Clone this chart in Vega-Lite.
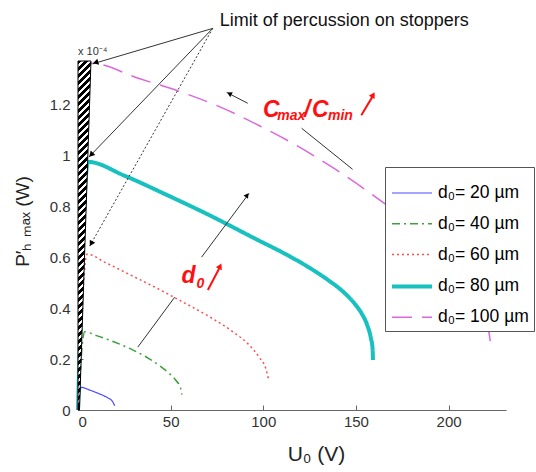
{
  "$schema": "https://vega.github.io/schema/vega-lite/v6.json",
  "width": 428,
  "height": 349,
  "autosize": {"type": "none"},
  "padding": {"left": 78, "top": 61, "right": 30, "bottom": 62},
  "background": "white",
  "config": {
    "view": {"stroke": null},
    "font": "Liberation Sans",
    "axis": {
      "grid": false,
      "labelFont": "Liberation Sans",
      "labelFontSize": 15,
      "labelColor": "#333",
      "domainColor": "#666",
      "tickColor": "#666",
      "tickSize": -5,
      "titleFont": "Liberation Sans",
      "titleFontWeight": "normal",
      "titleColor": "#222"
    },
    "legend": {
      "title": null,
      "titlePadding": 0,
      "symbolType": "stroke",
      "symbolSize": 1600,
      "labelFont": "Liberation Sans",
      "labelFontSize": 17.5,
      "labelColor": "#000",
      "labelOffset": 4,
      "padding": 5,
      "rowPadding": 0.8,
      "strokeColor": "#555",
      "fillColor": "white"
    }
  },
  "datasets": {
    "curves": [
      {"U": 0, "P": 0, "d": "d₀= 20 µm"},
      {"U": 1.8, "P": 0.089, "d": "d₀= 20 µm"},
      {"U": 6, "P": 0.079, "d": "d₀= 20 µm"},
      {"U": 10, "P": 0.068, "d": "d₀= 20 µm"},
      {"U": 13, "P": 0.059, "d": "d₀= 20 µm"},
      {"U": 16, "P": 0.048, "d": "d₀= 20 µm"},
      {"U": 18.5, "P": 0.035, "d": "d₀= 20 µm"},
      {"U": 19.8, "P": 0.017, "d": "d₀= 20 µm"},
      {"U": 0, "P": 0, "d": "d₀= 40 µm"},
      {"U": 3.6, "P": 0.307, "d": "d₀= 40 µm"},
      {"U": 10, "P": 0.292, "d": "d₀= 40 µm"},
      {"U": 20, "P": 0.266, "d": "d₀= 40 µm"},
      {"U": 30, "P": 0.234, "d": "d₀= 40 µm"},
      {"U": 38, "P": 0.203, "d": "d₀= 40 µm"},
      {"U": 44, "P": 0.174, "d": "d₀= 40 µm"},
      {"U": 49, "P": 0.145, "d": "d₀= 40 µm"},
      {"U": 53, "P": 0.115, "d": "d₀= 40 µm"},
      {"U": 55.3, "P": 0.088, "d": "d₀= 40 µm"},
      {"U": 56.1, "P": 0.06, "d": "d₀= 40 µm"},
      {"U": 0, "P": 0, "d": "d₀= 60 µm"},
      {"U": 4.9, "P": 0.612, "d": "d₀= 60 µm"},
      {"U": 15, "P": 0.578, "d": "d₀= 60 µm"},
      {"U": 30, "P": 0.524, "d": "d₀= 60 µm"},
      {"U": 45, "P": 0.469, "d": "d₀= 60 µm"},
      {"U": 55, "P": 0.43, "d": "d₀= 60 µm"},
      {"U": 70, "P": 0.37, "d": "d₀= 60 µm"},
      {"U": 84, "P": 0.305, "d": "d₀= 60 µm"},
      {"U": 92, "P": 0.258, "d": "d₀= 60 µm"},
      {"U": 98, "P": 0.205, "d": "d₀= 60 µm"},
      {"U": 101.5, "P": 0.16, "d": "d₀= 60 µm"},
      {"U": 103, "P": 0.115, "d": "d₀= 60 µm"},
      {"U": 0, "P": 0, "d": "d₀= 80 µm"},
      {"U": 5.4, "P": 0.974, "d": "d₀= 80 µm"},
      {"U": 25, "P": 0.92, "d": "d₀= 80 µm"},
      {"U": 47.7, "P": 0.845, "d": "d₀= 80 µm"},
      {"U": 70, "P": 0.768, "d": "d₀= 80 µm"},
      {"U": 96.3, "P": 0.67, "d": "d₀= 80 µm"},
      {"U": 112, "P": 0.612, "d": "d₀= 80 µm"},
      {"U": 125, "P": 0.558, "d": "d₀= 80 µm"},
      {"U": 135, "P": 0.51, "d": "d₀= 80 µm"},
      {"U": 143, "P": 0.465, "d": "d₀= 80 µm"},
      {"U": 149, "P": 0.42, "d": "d₀= 80 µm"},
      {"U": 153, "P": 0.38, "d": "d₀= 80 µm"},
      {"U": 156, "P": 0.335, "d": "d₀= 80 µm"},
      {"U": 158, "P": 0.285, "d": "d₀= 80 µm"},
      {"U": 159, "P": 0.24, "d": "d₀= 80 µm"},
      {"U": 159.2, "P": 0.196, "d": "d₀= 80 µm"},
      {"U": 0, "P": 0, "d": "d₀= 100 µm"},
      {"U": 6.9, "P": 1.361, "d": "d₀= 100 µm"},
      {"U": 33.4, "P": 1.3, "d": "d₀= 100 µm"},
      {"U": 55, "P": 1.25, "d": "d₀= 100 µm"},
      {"U": 76.6, "P": 1.19, "d": "d₀= 100 µm"},
      {"U": 98.2, "P": 1.115, "d": "d₀= 100 µm"},
      {"U": 120, "P": 1.03, "d": "d₀= 100 µm"},
      {"U": 137.8, "P": 0.95, "d": "d₀= 100 µm"},
      {"U": 162.9, "P": 0.824, "d": "d₀= 100 µm"},
      {"U": 185, "P": 0.7, "d": "d₀= 100 µm"},
      {"U": 200, "P": 0.6, "d": "d₀= 100 µm"},
      {"U": 210, "P": 0.51, "d": "d₀= 100 µm"},
      {"U": 217, "P": 0.42, "d": "d₀= 100 µm"},
      {"U": 221, "P": 0.34, "d": "d₀= 100 µm"},
      {"U": 222.5, "P": 0.27, "d": "d₀= 100 µm"}
    ],
    "hatch": [
      {"P": 0, "U": 0.8},
      {"P": 1.37, "U": 7.0}
    ]
  },
  "layer": [
    {
      "data": {"name": "curves"},
      "mark": {"type": "line", "interpolate": "monotone"},
      "encoding": {
        "x": {
          "field": "U", "type": "quantitative",
          "scale": {"domain": [0, 231], "nice": false, "zero": false},
          "axis": {"values": [0, 50, 100, 150, 200], "format": "d", "labelPadding": 9, "title": "U₀ (V)", "titleFontSize": 21, "titleX": 238, "titleY": 50, "titleBaseline": "alphabetic", "titleAnchor": null}
        },
        "y": {
          "field": "P", "type": "quantitative",
          "scale": {"domain": [0, 1.37], "nice": false},
          "axis": {"values": [0, 0.2, 0.4, 0.6, 0.8, 1, 1.2], "format": "~g", "labelPadding": 13, "title": "P′ₕ ₘₐₓ (W)", "titleFontSize": 19, "titleX": -56, "titleY": 160, "titleAngle": -90, "titleBaseline": "middle", "titleAlign": "center", "titleAnchor": null}
        },
        "color": {
          "field": "d", "type": "nominal",
          "scale": {"type": "ordinal", "domain": ["d₀= 20 µm", "d₀= 40 µm", "d₀= 60 µm", "d₀= 80 µm", "d₀= 100 µm"], "range": ["#4b4bff", "#3f9f3f", "#ff4d4d", "#18c0c0", "#dd66dd"]},
          "legend": {"orient": "none", "legendX": 307, "legendY": 106}
        },
        "strokeDash": {
          "field": "d", "type": "nominal",
          "scale": {"type": "ordinal", "domain": ["d₀= 20 µm", "d₀= 40 µm", "d₀= 60 µm", "d₀= 80 µm", "d₀= 100 µm"], "range": [[1, 0], [8, 4, 2, 4], [2, 3], [1, 0], [20, 10]]},
          "legend": {"orient": "none", "legendX": 307, "legendY": 106}
        },
        "strokeWidth": {
          "field": "d", "type": "nominal",
          "scale": {"type": "ordinal", "domain": ["d₀= 20 µm", "d₀= 40 µm", "d₀= 60 µm", "d₀= 80 µm", "d₀= 100 µm"], "range": [1.2, 1.5, 1.5, 4, 1.5]},
          "legend": {"orient": "none", "legendX": 307, "legendY": 106}
        }
      }
    },
    {
      "data": {"name": "hatch"},
      "mark": {
        "type": "area", "orient": "horizontal", "stroke": "#000", "strokeWidth": 1,
        "fill": {
          "gradient": "linear", "x1": 0, "y1": 0, "x2": 0.0372, "y2": 1,
          "stops": [
            {"offset": 0, "color": "#000"}, {"offset": 0.011, "color": "#000"}, {"offset": 0.011, "color": "#fff"}, {"offset": 0.02, "color": "#fff"},
            {"offset": 0.02, "color": "#000"}, {"offset": 0.031, "color": "#000"}, {"offset": 0.031, "color": "#fff"}, {"offset": 0.04, "color": "#fff"},
            {"offset": 0.04, "color": "#000"}, {"offset": 0.051, "color": "#000"}, {"offset": 0.051, "color": "#fff"}, {"offset": 0.06, "color": "#fff"},
            {"offset": 0.06, "color": "#000"}, {"offset": 0.071, "color": "#000"}, {"offset": 0.071, "color": "#fff"}, {"offset": 0.08, "color": "#fff"},
            {"offset": 0.08, "color": "#000"}, {"offset": 0.091, "color": "#000"}, {"offset": 0.091, "color": "#fff"}, {"offset": 0.1, "color": "#fff"},
            {"offset": 0.1, "color": "#000"}, {"offset": 0.111, "color": "#000"}, {"offset": 0.111, "color": "#fff"}, {"offset": 0.12, "color": "#fff"},
            {"offset": 0.12, "color": "#000"}, {"offset": 0.131, "color": "#000"}, {"offset": 0.131, "color": "#fff"}, {"offset": 0.14, "color": "#fff"},
            {"offset": 0.14, "color": "#000"}, {"offset": 0.151, "color": "#000"}, {"offset": 0.151, "color": "#fff"}, {"offset": 0.16, "color": "#fff"},
            {"offset": 0.16, "color": "#000"}, {"offset": 0.171, "color": "#000"}, {"offset": 0.171, "color": "#fff"}, {"offset": 0.18, "color": "#fff"},
            {"offset": 0.18, "color": "#000"}, {"offset": 0.191, "color": "#000"}, {"offset": 0.191, "color": "#fff"}, {"offset": 0.2, "color": "#fff"},
            {"offset": 0.2, "color": "#000"}, {"offset": 0.211, "color": "#000"}, {"offset": 0.211, "color": "#fff"}, {"offset": 0.22, "color": "#fff"},
            {"offset": 0.22, "color": "#000"}, {"offset": 0.231, "color": "#000"}, {"offset": 0.231, "color": "#fff"}, {"offset": 0.24, "color": "#fff"},
            {"offset": 0.24, "color": "#000"}, {"offset": 0.251, "color": "#000"}, {"offset": 0.251, "color": "#fff"}, {"offset": 0.26, "color": "#fff"},
            {"offset": 0.26, "color": "#000"}, {"offset": 0.271, "color": "#000"}, {"offset": 0.271, "color": "#fff"}, {"offset": 0.28, "color": "#fff"},
            {"offset": 0.28, "color": "#000"}, {"offset": 0.291, "color": "#000"}, {"offset": 0.291, "color": "#fff"}, {"offset": 0.3, "color": "#fff"},
            {"offset": 0.3, "color": "#000"}, {"offset": 0.311, "color": "#000"}, {"offset": 0.311, "color": "#fff"}, {"offset": 0.32, "color": "#fff"},
            {"offset": 0.32, "color": "#000"}, {"offset": 0.331, "color": "#000"}, {"offset": 0.331, "color": "#fff"}, {"offset": 0.34, "color": "#fff"},
            {"offset": 0.34, "color": "#000"}, {"offset": 0.351, "color": "#000"}, {"offset": 0.351, "color": "#fff"}, {"offset": 0.36, "color": "#fff"},
            {"offset": 0.36, "color": "#000"}, {"offset": 0.371, "color": "#000"}, {"offset": 0.371, "color": "#fff"}, {"offset": 0.38, "color": "#fff"},
            {"offset": 0.38, "color": "#000"}, {"offset": 0.391, "color": "#000"}, {"offset": 0.391, "color": "#fff"}, {"offset": 0.4, "color": "#fff"},
            {"offset": 0.4, "color": "#000"}, {"offset": 0.411, "color": "#000"}, {"offset": 0.411, "color": "#fff"}, {"offset": 0.42, "color": "#fff"},
            {"offset": 0.42, "color": "#000"}, {"offset": 0.431, "color": "#000"}, {"offset": 0.431, "color": "#fff"}, {"offset": 0.44, "color": "#fff"},
            {"offset": 0.44, "color": "#000"}, {"offset": 0.451, "color": "#000"}, {"offset": 0.451, "color": "#fff"}, {"offset": 0.46, "color": "#fff"},
            {"offset": 0.46, "color": "#000"}, {"offset": 0.471, "color": "#000"}, {"offset": 0.471, "color": "#fff"}, {"offset": 0.48, "color": "#fff"},
            {"offset": 0.48, "color": "#000"}, {"offset": 0.491, "color": "#000"}, {"offset": 0.491, "color": "#fff"}, {"offset": 0.5, "color": "#fff"},
            {"offset": 0.5, "color": "#000"}, {"offset": 0.511, "color": "#000"}, {"offset": 0.511, "color": "#fff"}, {"offset": 0.52, "color": "#fff"},
            {"offset": 0.52, "color": "#000"}, {"offset": 0.531, "color": "#000"}, {"offset": 0.531, "color": "#fff"}, {"offset": 0.54, "color": "#fff"},
            {"offset": 0.54, "color": "#000"}, {"offset": 0.551, "color": "#000"}, {"offset": 0.551, "color": "#fff"}, {"offset": 0.56, "color": "#fff"},
            {"offset": 0.56, "color": "#000"}, {"offset": 0.571, "color": "#000"}, {"offset": 0.571, "color": "#fff"}, {"offset": 0.58, "color": "#fff"},
            {"offset": 0.58, "color": "#000"}, {"offset": 0.591, "color": "#000"}, {"offset": 0.591, "color": "#fff"}, {"offset": 0.6, "color": "#fff"},
            {"offset": 0.6, "color": "#000"}, {"offset": 0.611, "color": "#000"}, {"offset": 0.611, "color": "#fff"}, {"offset": 0.62, "color": "#fff"},
            {"offset": 0.62, "color": "#000"}, {"offset": 0.631, "color": "#000"}, {"offset": 0.631, "color": "#fff"}, {"offset": 0.64, "color": "#fff"},
            {"offset": 0.64, "color": "#000"}, {"offset": 0.651, "color": "#000"}, {"offset": 0.651, "color": "#fff"}, {"offset": 0.66, "color": "#fff"},
            {"offset": 0.66, "color": "#000"}, {"offset": 0.671, "color": "#000"}, {"offset": 0.671, "color": "#fff"}, {"offset": 0.68, "color": "#fff"},
            {"offset": 0.68, "color": "#000"}, {"offset": 0.691, "color": "#000"}, {"offset": 0.691, "color": "#fff"}, {"offset": 0.7, "color": "#fff"},
            {"offset": 0.7, "color": "#000"}, {"offset": 0.711, "color": "#000"}, {"offset": 0.711, "color": "#fff"}, {"offset": 0.72, "color": "#fff"},
            {"offset": 0.72, "color": "#000"}, {"offset": 0.731, "color": "#000"}, {"offset": 0.731, "color": "#fff"}, {"offset": 0.74, "color": "#fff"},
            {"offset": 0.74, "color": "#000"}, {"offset": 0.751, "color": "#000"}, {"offset": 0.751, "color": "#fff"}, {"offset": 0.76, "color": "#fff"},
            {"offset": 0.76, "color": "#000"}, {"offset": 0.771, "color": "#000"}, {"offset": 0.771, "color": "#fff"}, {"offset": 0.78, "color": "#fff"},
            {"offset": 0.78, "color": "#000"}, {"offset": 0.791, "color": "#000"}, {"offset": 0.791, "color": "#fff"}, {"offset": 0.8, "color": "#fff"},
            {"offset": 0.8, "color": "#000"}, {"offset": 0.811, "color": "#000"}, {"offset": 0.811, "color": "#fff"}, {"offset": 0.82, "color": "#fff"},
            {"offset": 0.82, "color": "#000"}, {"offset": 0.831, "color": "#000"}, {"offset": 0.831, "color": "#fff"}, {"offset": 0.84, "color": "#fff"},
            {"offset": 0.84, "color": "#000"}, {"offset": 0.851, "color": "#000"}, {"offset": 0.851, "color": "#fff"}, {"offset": 0.86, "color": "#fff"},
            {"offset": 0.86, "color": "#000"}, {"offset": 0.871, "color": "#000"}, {"offset": 0.871, "color": "#fff"}, {"offset": 0.88, "color": "#fff"},
            {"offset": 0.88, "color": "#000"}, {"offset": 0.891, "color": "#000"}, {"offset": 0.891, "color": "#fff"}, {"offset": 0.9, "color": "#fff"},
            {"offset": 0.9, "color": "#000"}, {"offset": 0.911, "color": "#000"}, {"offset": 0.911, "color": "#fff"}, {"offset": 0.92, "color": "#fff"},
            {"offset": 0.92, "color": "#000"}, {"offset": 0.931, "color": "#000"}, {"offset": 0.931, "color": "#fff"}, {"offset": 0.94, "color": "#fff"},
            {"offset": 0.94, "color": "#000"}, {"offset": 0.951, "color": "#000"}, {"offset": 0.951, "color": "#fff"}, {"offset": 0.96, "color": "#fff"},
            {"offset": 0.96, "color": "#000"}, {"offset": 0.971, "color": "#000"}, {"offset": 0.971, "color": "#fff"}, {"offset": 0.98, "color": "#fff"},
            {"offset": 0.98, "color": "#000"}, {"offset": 1, "color": "#000"}
          ]
        }
      },
      "encoding": {
        "y": {"field": "P", "type": "quantitative"},
        "x": {"field": "U", "type": "quantitative"},
        "x2": {"datum": 0}
      }
    },
    {
      "data": {"values": [{}]},
      "mark": {"type": "rule", "color": "#333", "strokeWidth": 1},
      "encoding": {"x": {"datum": 72.7, "type": "quantitative"}, "y": {"datum": 1.498, "type": "quantitative"}, "x2": {"datum": 8.0}, "y2": {"datum": 1.359}}
    },
    {
      "data": {"values": [{}]},
      "mark": {"type": "rule", "color": "#333", "strokeWidth": 1},
      "encoding": {"x": {"datum": 72.7, "type": "quantitative"}, "y": {"datum": 1.498, "type": "quantitative"}, "x2": {"datum": 5.9}, "y2": {"datum": 0.993}}
    },
    {
      "data": {"values": [{}]},
      "mark": {"type": "rule", "color": "#333", "strokeWidth": 1, "strokeDash": [2, 2]},
      "encoding": {"x": {"datum": 72.7, "type": "quantitative"}, "y": {"datum": 1.498, "type": "quantitative"}, "x2": {"datum": 6.3}, "y2": {"datum": 0.643}}
    },
    {
      "data": {"values": [{}]},
      "mark": {"type": "rule", "color": "#333", "strokeWidth": 1},
      "encoding": {"x": {"datum": 148.2, "type": "quantitative"}, "y": {"datum": 0.945, "type": "quantitative"}, "x2": {"datum": 120.7}, "y2": {"datum": 1.106}}
    },
    {
      "data": {"values": [{}]},
      "mark": {"type": "rule", "color": "#333", "strokeWidth": 1},
      "encoding": {"x": {"datum": 91.6, "type": "quantitative"}, "y": {"datum": 1.204, "type": "quantitative"}, "x2": {"datum": 80.2}, "y2": {"datum": 1.247}}
    },
    {
      "data": {"values": [{}]},
      "mark": {"type": "rule", "color": "#333", "strokeWidth": 1},
      "encoding": {"x": {"datum": 32.3, "type": "quantitative"}, "y": {"datum": 0.247, "type": "quantitative"}, "x2": {"datum": 52.2}, "y2": {"datum": 0.443}}
    },
    {
      "data": {"values": [{}]},
      "mark": {"type": "rule", "color": "#333", "strokeWidth": 1},
      "encoding": {"x": {"datum": 66.7, "type": "quantitative"}, "y": {"datum": 0.6, "type": "quantitative"}, "x2": {"datum": 92.3}, "y2": {"datum": 0.85}}
    },
    {
      "data": {"values": [{}]},
      "mark": {"type": "rule", "color": "#ff1010", "strokeWidth": 2},
      "encoding": {"x": {"datum": 152.9, "type": "quantitative"}, "y": {"datum": 1.157, "type": "quantitative"}, "x2": {"datum": 159.6}, "y2": {"datum": 1.238}}
    },
    {
      "data": {"values": [{}]},
      "mark": {"type": "rule", "color": "#ff1010", "strokeWidth": 2},
      "encoding": {"x": {"datum": 70.1, "type": "quantitative"}, "y": {"datum": 0.471, "type": "quantitative"}, "x2": {"datum": 76.9}, "y2": {"datum": 0.565}}
    },
    {
      "data": {"values": [{}]},
      "mark": {"type": "point", "shape": "triangle-up", "filled": true, "color": "#ff1010", "size": 45, "angle": 29.7, "opacity": 1},
      "encoding": {"x": {"datum": 159.3, "type": "quantitative"}, "y": {"datum": 1.237, "type": "quantitative"}}
    },
    {
      "data": {"values": [{}]},
      "mark": {"type": "point", "shape": "triangle-up", "filled": true, "color": "#ff1010", "size": 45, "angle": 26.6, "opacity": 1},
      "encoding": {"x": {"datum": 76.7, "type": "quantitative"}, "y": {"datum": 0.565, "type": "quantitative"}}
    },
    {
      "data": {"values": [{}]},
      "mark": {"type": "point", "shape": "triangle-up", "filled": true, "color": "#000", "size": 40, "angle": 253.7, "opacity": 1},
      "encoding": {"x": {"datum": 9.5, "type": "quantitative"}, "y": {"datum": 1.364, "type": "quantitative"}}
    },
    {
      "data": {"values": [{}]},
      "mark": {"type": "point", "shape": "triangle-up", "filled": true, "color": "#000", "size": 40, "angle": 223.9, "opacity": 1},
      "encoding": {"x": {"datum": 7.07, "type": "quantitative"}, "y": {"datum": 1.002, "type": "quantitative"}}
    },
    {
      "data": {"values": [{}]},
      "mark": {"type": "point", "shape": "triangle-up", "filled": true, "color": "#000", "size": 40, "angle": 209.4, "opacity": 1},
      "encoding": {"x": {"datum": 7.1, "type": "quantitative"}, "y": {"datum": 0.653, "type": "quantitative"}}
    },
    {
      "data": {"values": [{}]},
      "mark": {"type": "point", "shape": "triangle-up", "filled": true, "color": "#000", "size": 30, "angle": 297.6, "opacity": 1},
      "encoding": {"x": {"datum": 81.7, "type": "quantitative"}, "y": {"datum": 1.242, "type": "quantitative"}}
    },
    {
      "data": {"values": [{}]},
      "mark": {"type": "point", "shape": "triangle-up", "filled": true, "color": "#000", "size": 30, "angle": 35.9, "opacity": 1},
      "encoding": {"x": {"datum": 91.3, "type": "quantitative"}, "y": {"datum": 0.843, "type": "quantitative"}}
    },
    {
      "data": {"values": [{}]},
      "mark": {"type": "text", "text": "Limit of percussion on stoppers", "font": "Liberation Sans", "fontSize": 18, "color": "#111", "align": "left", "baseline": "alphabetic"},
      "encoding": {"x": {"datum": 76.5, "type": "quantitative"}, "y": {"datum": 1.506, "type": "quantitative"}}
    },
    {
      "data": {"values": [{}]},
      "mark": {"type": "text", "text": "x 10⁻⁴", "font": "Liberation Sans", "fontSize": 11, "color": "#333", "align": "left", "baseline": "alphabetic"},
      "encoding": {"x": {"datum": 0, "type": "quantitative"}, "y": {"datum": 1.392, "type": "quantitative"}}
    },
    {
      "data": {"values": [{}]},
      "mark": {"type": "text", "text": "C", "font": "Liberation Sans", "fontSize": 23, "fontWeight": "bold", "fontStyle": "italic", "color": "#ff1010", "align": "left", "baseline": "alphabetic"},
      "encoding": {"x": {"datum": 99.8, "type": "quantitative"}, "y": {"datum": 1.15, "type": "quantitative"}}
    },
    {
      "data": {"values": [{}]},
      "mark": {"type": "text", "text": "max", "font": "Liberation Sans", "fontSize": 14, "fontWeight": "bold", "fontStyle": "italic", "color": "#ff1010", "align": "left", "baseline": "alphabetic"},
      "encoding": {"x": {"datum": 107.6, "type": "quantitative"}, "y": {"datum": 1.139, "type": "quantitative"}}
    },
    {
      "data": {"values": [{}]},
      "mark": {"type": "text", "text": "/", "font": "Liberation Sans", "fontSize": 23, "fontWeight": "bold", "fontStyle": "italic", "color": "#ff1010", "align": "left", "baseline": "alphabetic"},
      "encoding": {"x": {"datum": 122.0, "type": "quantitative"}, "y": {"datum": 1.15, "type": "quantitative"}}
    },
    {
      "data": {"values": [{}]},
      "mark": {"type": "text", "text": "C", "font": "Liberation Sans", "fontSize": 23, "fontWeight": "bold", "fontStyle": "italic", "color": "#ff1010", "align": "left", "baseline": "alphabetic"},
      "encoding": {"x": {"datum": 126.3, "type": "quantitative"}, "y": {"datum": 1.15, "type": "quantitative"}}
    },
    {
      "data": {"values": [{}]},
      "mark": {"type": "text", "text": "min", "font": "Liberation Sans", "fontSize": 14, "fontWeight": "bold", "fontStyle": "italic", "color": "#ff1010", "align": "left", "baseline": "alphabetic"},
      "encoding": {"x": {"datum": 134.9, "type": "quantitative"}, "y": {"datum": 1.139, "type": "quantitative"}}
    },
    {
      "data": {"values": [{}]},
      "mark": {"type": "text", "text": "d", "font": "Liberation Sans", "fontSize": 23, "fontWeight": "bold", "fontStyle": "italic", "color": "#ff1010", "align": "left", "baseline": "alphabetic"},
      "encoding": {"x": {"datum": 55.8, "type": "quantitative"}, "y": {"datum": 0.497, "type": "quantitative"}}
    },
    {
      "data": {"values": [{}]},
      "mark": {"type": "text", "text": "0", "font": "Liberation Sans", "fontSize": 14, "fontWeight": "bold", "fontStyle": "italic", "color": "#ff1010", "align": "left", "baseline": "alphabetic"},
      "encoding": {"x": {"datum": 63.9, "type": "quantitative"}, "y": {"datum": 0.478, "type": "quantitative"}}
    }
  ]
}
